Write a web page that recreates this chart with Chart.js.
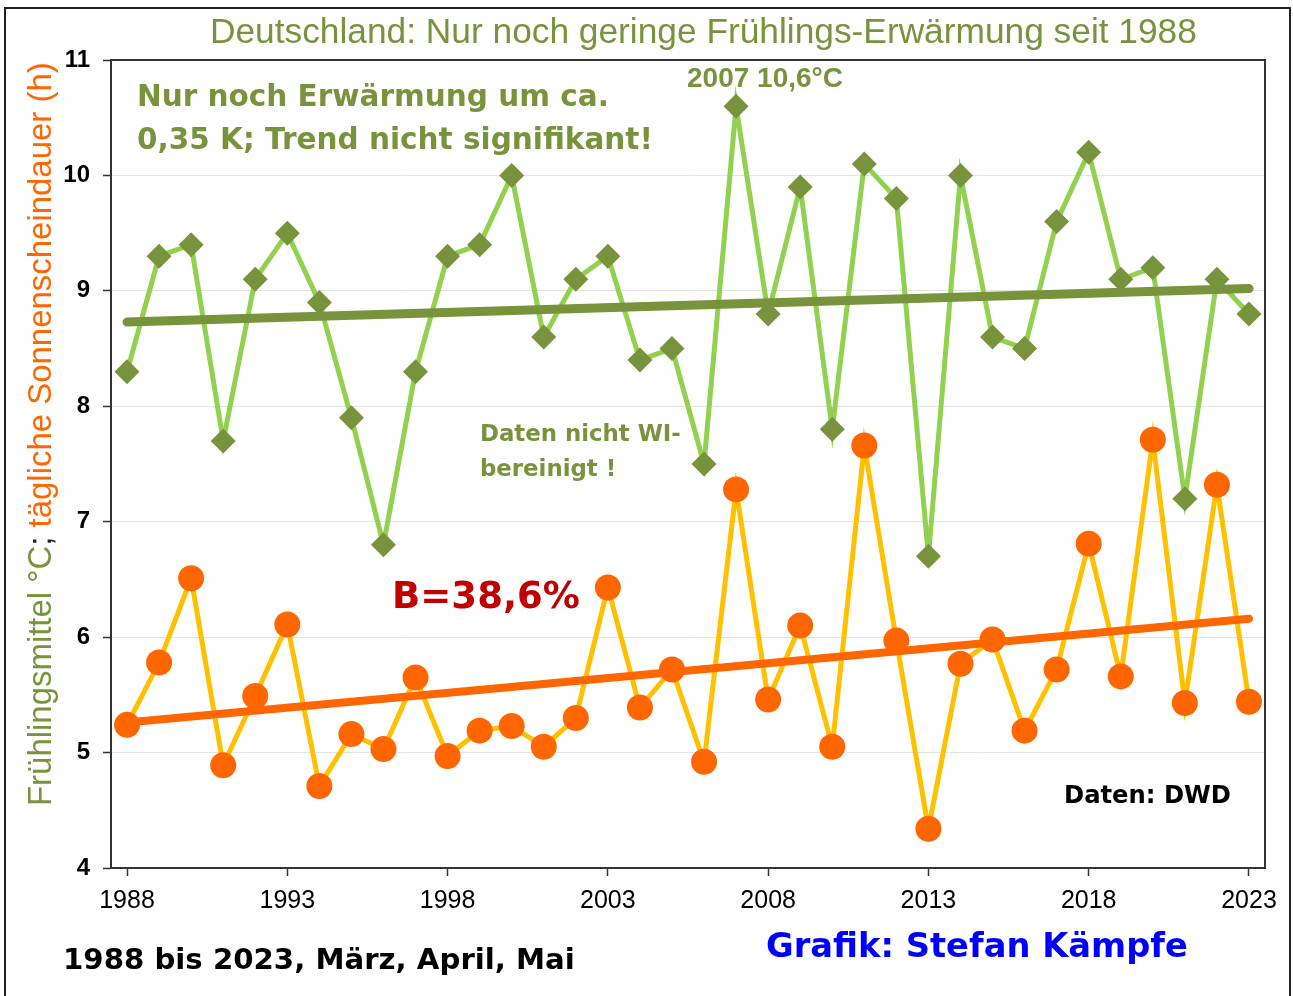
<!DOCTYPE html>
<html><head><meta charset="utf-8">
<script src="https://cdn.jsdelivr.net/npm/chart.js@4/dist/chart.umd.min.js"></script>
<style>html,body{margin:0;padding:0;background:#fff;overflow:hidden}</style>
</head><body>
<canvas id="c" width="1293" height="996"></canvas>
<script>
// ---- data ----
const years = [1988,1989,1990,1991,1992,1993,1994,1995,1996,1997,1998,1999,2000,2001,2002,2003,2004,2005,2006,2007,2008,2009,2010,2011,2012,2013,2014,2015,2016,2017,2018,2019,2020,2021,2022,2023];
const tempValues = [8.3,9.3,9.4,7.7,9.1,9.5,8.9,7.9,6.8,8.3,9.3,9.4,10.0,8.6,9.1,9.3,8.4,8.5,7.5,10.6,8.8,9.9,7.8,10.1,9.8,6.7,10.0,8.6,8.5,9.6,10.2,9.1,9.2,7.2,9.1,8.8];
const sunValues = [5.24,5.78,6.51,4.89,5.49,6.11,4.71,5.16,5.03,5.65,4.97,5.19,5.23,5.05,5.30,6.43,5.39,5.72,4.92,7.28,5.46,6.10,5.05,7.66,5.97,4.34,5.77,5.98,5.19,5.72,6.81,5.66,7.71,5.43,7.32,5.44];
const trendYears = [1988, 2023];
const tempTrend = [8.73, 9.02];
const sunTrend = [5.26, 6.16];
const xTickValues = [1988,1993,1998,2003,2008,2013,2018,2023];
const yTickValues = [4,5,6,7,8,9,10,11];

const GREEN_DARK = '#77933c', GREEN_LIGHT = '#92d050', ORANGE = '#ff6600', YELLOW = '#ffc000';

const pts = (xs, ys) => xs.map((x, i) => ({x: x, y: ys[i]}));

function fitSize(ctx, text, weight, family, w) {
  ctx.font = weight + ' 100px "' + family + '"';
  return 100 * w / ctx.measureText(text).width;
}
function drawText(ctx, text, x, y, size, weight, family, color) {
  ctx.font = weight + ' ' + size + 'px "' + family + '"';
  ctx.fillStyle = color;
  ctx.textAlign = 'left';
  ctx.textBaseline = 'middle';
  ctx.fillText(text, x, y);
}

const decor = {
  id: 'decor',
  afterDraw(chart) {
    const ctx = chart.ctx, a = chart.chartArea;
    ctx.save();
    // plot border top/right
    ctx.strokeStyle = '#333'; ctx.lineWidth = 2;
    ctx.beginPath();
    ctx.moveTo(a.left, a.top); ctx.lineTo(a.right, a.top); ctx.lineTo(a.right, a.bottom);
    ctx.stroke();
    // outer frame
    ctx.strokeStyle = '#222'; ctx.lineWidth = 2;
    ctx.beginPath();
    ctx.moveTo(5, 996); ctx.lineTo(5, 8); ctx.lineTo(1290, 8); ctx.lineTo(1290, 996);
    ctx.stroke();

    const BOLD = 'DejaVu Sans', ARIAL = 'Liberation Sans';
    // title
    let t = 'Deutschland: Nur noch geringe Frühlings-Erwärmung seit 1988';
    drawText(ctx, t, 210, 33, fitSize(ctx, t, 'normal', ARIAL, 987), 'normal', ARIAL, GREEN_DARK);
    // annotation
    let l1 = 'Nur noch Erwärmung um ca.', l2 = '0,35 K; Trend nicht signifikant!';
    let s = fitSize(ctx, l2, 'bold', BOLD, 516);
    drawText(ctx, l1, 137, 98, s, 'bold', BOLD, GREEN_DARK);
    drawText(ctx, l2, 137, 141, s, 'bold', BOLD, GREEN_DARK);
    t = '2007 10,6°C';
    drawText(ctx, t, 687, 79, fitSize(ctx, t, 'bold', ARIAL, 156), 'bold', ARIAL, GREEN_DARK);
    l1 = 'Daten nicht WI-'; l2 = 'bereinigt !';
    s = fitSize(ctx, l1, 'bold', BOLD, 201);
    drawText(ctx, l1, 480, 435, s, 'bold', BOLD, GREEN_DARK);
    drawText(ctx, l2, 480, 470, s, 'bold', BOLD, GREEN_DARK);
    t = 'B=38,6%';
    drawText(ctx, t, 392, 598, fitSize(ctx, t, 'bold', BOLD, 188), 'bold', BOLD, '#c00000');
    t = 'Daten: DWD';
    drawText(ctx, t, 1064, 797, fitSize(ctx, t, 'bold', BOLD, 167), 'bold', BOLD, '#000');
    t = '1988 bis 2023, März, April, Mai';
    drawText(ctx, t, 63, 961, fitSize(ctx, t, 'bold', BOLD, 512), 'bold', BOLD, '#000');
    t = 'Grafik: Stefan Kämpfe';
    drawText(ctx, t, 766, 948, fitSize(ctx, t, 'bold', BOLD, 422), 'bold', BOLD, '#0000ff');

    // rotated y-axis title with two colours
    const p1 = 'Frühlingsmittel °C', p2 = '; ', p3 = 'tägliche Sonnenscheindauer (h)';
    const full = p1 + p2 + p3;
    s = fitSize(ctx, full, 'normal', ARIAL, 744);
    ctx.font = 'normal ' + s + 'px "' + ARIAL + '"';
    const w1 = ctx.measureText(p1).width, w2 = ctx.measureText(p2).width;
    ctx.translate(42, 806);
    ctx.rotate(-Math.PI / 2);
    ctx.textBaseline = 'middle'; ctx.textAlign = 'left';
    ctx.fillStyle = GREEN_DARK; ctx.fillText(p1, 0, 0);
    ctx.fillStyle = '#222'; ctx.fillText(p2, w1, 0);
    ctx.fillStyle = ORANGE; ctx.fillText(p3, w1 + w2, 0);
    ctx.restore();
  }
};

new Chart(document.getElementById('c'), {
  type: 'line',
  data: {
    datasets: [
      { data: pts(years, tempValues), borderColor: GREEN_LIGHT, borderWidth: 5,
        pointStyle: 'rectRot', pointRadius: 12.5, pointBackgroundColor: GREEN_DARK, pointBorderWidth: 0,
        pointBorderColor: GREEN_DARK, tension: 0, order: 4 },
      { data: pts(years, sunValues), borderColor: YELLOW, borderWidth: 5,
        pointStyle: 'circle', pointRadius: 13, pointBackgroundColor: ORANGE, pointBorderWidth: 0,
        pointBorderColor: ORANGE, tension: 0, order: 3 },
      { data: pts(trendYears, tempTrend), borderColor: GREEN_DARK, borderWidth: 9, borderCapStyle: 'round',
        pointRadius: 0, order: 2 },
      { data: pts(trendYears, sunTrend), borderColor: ORANGE, borderWidth: 8, borderCapStyle: 'round',
        pointRadius: 0, order: 1 }
    ]
  },
  options: {
    responsive: false, animation: false,
    layout: { padding: { left: 0, top: 60, right: 28, bottom: 0 } },
    plugins: { legend: { display: false }, tooltip: { enabled: false } },
    scales: {
      x: {
        type: 'linear', min: 1987.5, max: 2023.5,
        afterBuildTicks: sc => { sc.ticks = xTickValues.map(v => ({ value: v })); },
        afterFit: sc => { sc.height = 128; },
        ticks: { autoSkip: false, maxRotation: 0, padding: 10, color: '#000',
          font: { family: 'Liberation Sans', size: 25 }, callback: v => String(v) },
        grid: { drawOnChartArea: false, drawTicks: true, tickLength: 8, tickColor: '#333', tickWidth: 1.5 },
        border: { color: '#333', width: 2 }
      },
      y: {
        type: 'linear', min: 4, max: 11,
        afterBuildTicks: sc => { sc.ticks = yTickValues.map(v => ({ value: v })); },
        afterFit: sc => { sc.width = 111; },
        ticks: { padding: 13, color: '#000', font: { family: 'Liberation Sans', size: 24, weight: 'bold' },
          callback: v => String(v) },
        grid: { color: '#e3e3e3', lineWidth: 1, tickLength: 8, tickColor: '#333', tickWidth: 1.5 },
        border: { color: '#333', width: 2 }
      }
    }
  },
  plugins: [decor]
});
</script>
</body></html>
